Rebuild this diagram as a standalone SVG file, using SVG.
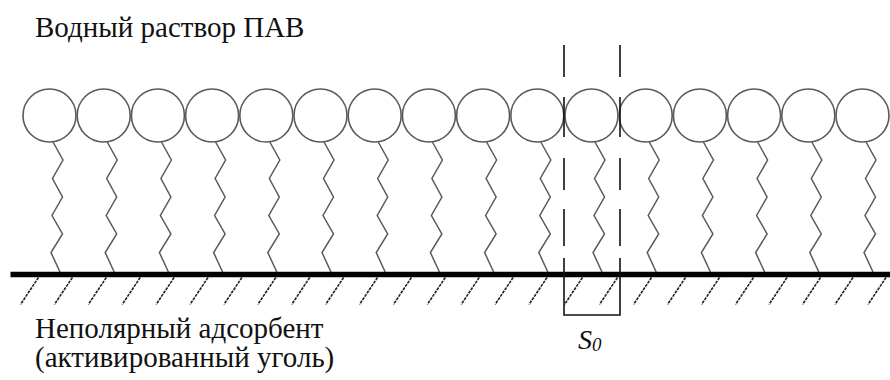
<svg xmlns="http://www.w3.org/2000/svg" xmlns:xlink="http://www.w3.org/1999/xlink" width="890" height="380" viewBox="0 0 890 380">
  <style>
    .head { fill: #fff; stroke: #5a5a5a; stroke-width: 1.6; }
    .tail { fill: none; stroke: #5a5a5a; stroke-width: 1.5; stroke-linejoin: miter; }
    .surface { stroke: #000; stroke-width: 5.5; }
    .hatch { stroke: #222; stroke-width: 1.6; stroke-dasharray: 3 1; }
    .guide { fill: none; stroke: #111; stroke-width: 1.6; }
    text { font-family: 'Liberation Serif', 'Times New Roman', Times, 'Noto Serif', 'DejaVu Serif', FreeSerif, serif; fill: #111; }
    .label { font-size: 29px; }
    .sym { font-style: italic; font-size: 28px; }
  </style>
  <defs>
    <!-- one surfactant molecule: polar head and zig-zag hydrocarbon tail, centred at x=0 -->
    <circle id="headShape" class="head" cx="0" cy="115.5" r="26.5"/>
    <path id="tailShape" class="tail" d="M3.5 142 L13.5 160 L3 178.5 L13 197 L2.5 215.5 L13 234 L1.5 252.5 L10.5 272"/>
  </defs>

  <rect width="890" height="380" fill="#fff"/>

  <text class="label" x="35" y="37">Водный раствор ПАВ</text>

  <!-- adsorbed monolayer -->
  <g id="molecule-1" transform="translate(49.5 0)"><use xlink:href="#tailShape"/><use xlink:href="#headShape"/></g>
  <g id="molecule-2" transform="translate(103.7 0)"><use xlink:href="#tailShape"/><use xlink:href="#headShape"/></g>
  <g id="molecule-3" transform="translate(157.9 0)"><use xlink:href="#tailShape"/><use xlink:href="#headShape"/></g>
  <g id="molecule-4" transform="translate(212.1 0)"><use xlink:href="#tailShape"/><use xlink:href="#headShape"/></g>
  <g id="molecule-5" transform="translate(266.3 0)"><use xlink:href="#tailShape"/><use xlink:href="#headShape"/></g>
  <g id="molecule-6" transform="translate(320.5 0)"><use xlink:href="#tailShape"/><use xlink:href="#headShape"/></g>
  <g id="molecule-7" transform="translate(374.7 0)"><use xlink:href="#tailShape"/><use xlink:href="#headShape"/></g>
  <g id="molecule-8" transform="translate(428.9 0)"><use xlink:href="#tailShape"/><use xlink:href="#headShape"/></g>
  <g id="molecule-9" transform="translate(483.1 0)"><use xlink:href="#tailShape"/><use xlink:href="#headShape"/></g>
  <g id="molecule-10" transform="translate(537.3 0)"><use xlink:href="#tailShape"/><use xlink:href="#headShape"/></g>
  <g id="molecule-11" transform="translate(591.5 0)"><use xlink:href="#tailShape"/><use xlink:href="#headShape"/></g>
  <g id="molecule-12" transform="translate(645.7 0)"><use xlink:href="#tailShape"/><use xlink:href="#headShape"/></g>
  <g id="molecule-13" transform="translate(699.9 0)"><use xlink:href="#tailShape"/><use xlink:href="#headShape"/></g>
  <g id="molecule-14" transform="translate(754.1 0)"><use xlink:href="#tailShape"/><use xlink:href="#headShape"/></g>
  <g id="molecule-15" transform="translate(808.3 0)"><use xlink:href="#tailShape"/><use xlink:href="#headShape"/></g>
  <g id="molecule-16" transform="translate(862.5 0)"><use xlink:href="#tailShape"/><use xlink:href="#headShape"/></g>

  <!-- adsorbent surface with hatching -->
  <g id="adsorbent">
    <line class="surface" x1="10.5" y1="274.5" x2="890" y2="274.5"/>
    <path class="hatch" d="M38.5 277.5 l-18 27 M72.4 277.5 l-18 27 M106.3 277.5 l-18 27 M140.2 277.5 l-18 27 M174.1 277.5 l-18 27 M208 277.5 l-18 27 M241.9 277.5 l-18 27 M275.8 277.5 l-18 27 M309.7 277.5 l-18 27 M343.6 277.5 l-18 27 M377.5 277.5 l-18 27 M411.4 277.5 l-18 27 M445.3 277.5 l-18 27 M479.2 277.5 l-18 27 M513.1 277.5 l-18 27 M547 277.5 l-18 27 M582.5 277.5 l-18 27 M617.5 277.5 l-18 27 M651.5 277.5 l-18 27 M685.5 277.5 l-18 27 M719.5 277.5 l-18 27 M753.5 277.5 l-18 27 M787 277.5 l-18 27 M820.5 277.5 l-18 27 M853 277.5 l-18 27 M886 277.5 l-18 27"/>
  </g>

  <!-- area per molecule, S0 -->
  <g id="area-s0">
    <path class="guide" d="M564 45 V77 M564 97 V137 M564 158 V190 M564 209 V246 M564 258 V315 H620 V258 M620 209 V246 M620 158 V190 M620 97 V137 M620 45 V77"/>
    <text class="sym" x="578" y="349">S<tspan font-size="19" dy="2">0</tspan></text>
  </g>

  <text class="label" x="35" y="338">Неполярный адсорбент</text>
  <text class="label" x="35" y="367">(активированный уголь)</text>
</svg>
